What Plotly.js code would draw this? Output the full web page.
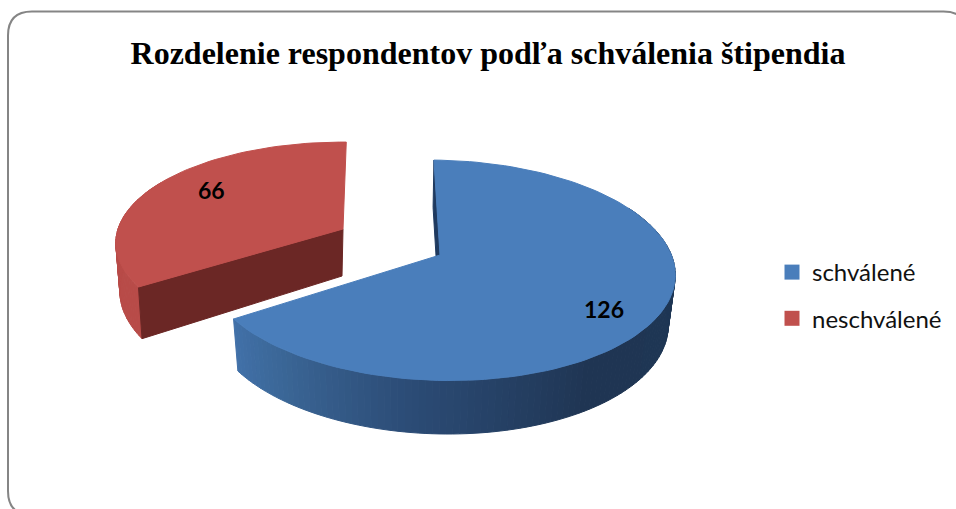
<!DOCTYPE html>
<html>
<head>
<meta charset="utf-8">
<script src="https://cdn.plot.ly/plotly-3.0.1.min.js"></script>
<style>html,body{margin:0;padding:0;background:#fff;overflow:hidden}#chart{width:956px;height:509px}</style>
</head>
<body>
<div id="chart"></div>
<script>
const categories = ["schválené", "neschválené"];
const values = [126, 66];
const chartTitle = "Rozdelenie respondentov podľa schválenia štipendia";

const total = values[0] + values[1];
const sweep = values.map(v => 360 * v / total);
const rad = d => d * Math.PI / 180;
const K = 0.139;

// projected disc: angle clockwise from the top, with a slight perspective
function disc(g, t) {
  const X = Math.sin(rad(t)), Y = Math.cos(rad(t)), w = 1 + K * Y;
  const dx = g.a * X / w;
  return [g.cx + dx, g.cy - g.b * Y / w + (g.s || 0) * dx];
}
function poly(pts, color, extra) {
  return Object.assign({
    x: pts.map(p => p[0]).concat(pts[0][0]),
    y: pts.map(p => p[1]).concat(pts[0][1]),
    mode: "lines", fill: "toself", fillcolor: color,
    line: {color: color, width: 1}, showlegend: false, hoverinfo: "skip"
  }, extra || {});
}
function arc(g, t0, t1) {
  const n = Math.max(2, Math.round(Math.abs(t1 - t0) / 2)), out = [];
  for (let i = 0; i <= n; i++) out.push(disc(g, t0 + (t1 - t0) * i / n));
  return out;
}
function hex(c){return [1,3,5].map(i=>parseInt(c.substr(i,2),16));}
function ramp(stops, t) {
  for (let i = 0; i < stops.length - 1; i++) {
    const [a, ca] = stops[i], [b, cb] = stops[i + 1];
    if (t <= b) {
      const f = Math.max(0, (t - a) / (b - a)), A = hex(ca), B = hex(cb);
      return "rgb(" + A.map((v, k) => Math.round(v + (B[k] - v) * f)).join(",") + ")";
    }
  }
  return stops[stops.length - 1][1];
}
function slice(top, bot, t0, t1, wall0, wall1, stops, cutColor, topColor, cutAngle) {
  const tr = [];
  const step = 1.5;
  for (let t = wall0; t < wall1; t += step) {
    const e = Math.min(t + step, wall1);
    tr.push(poly([disc(top, t), disc(top, e), disc(bot, e), disc(bot, t)], ramp(stops, t)));
  }
  const ct = disc(top, cutAngle), cb = disc(bot, cutAngle);
  tr.push(poly([ct, [top.cx, top.cy], [bot.cx, bot.cy], cb], cutColor));
  tr.push(poly([[top.cx, top.cy]].concat(arc(top, t0, t1)), topColor));
  return tr;
}

const blueTop = {cx: 440, cy: 255, a: 233, b: 108, s: 0.02};
const blueBot = {cx: 439, cy: 305, a: 227, b: 111, s: 0.02};
const redTop  = {cx: 343, cy: 229, a: 225, b: 99};
const redBot  = {cx: 342, cy: 276, a: 220, b: 107};
const b0 = -1.7, b1 = b0 + sweep[0];
const r0 = 237.2, r1 = r0 + sweep[1];

const blueStops = [[60,"#1e3a5f"],[105,"#1e3654"],[145,"#1f3553"],[185,"#2b4b75"],[215,"#3a6595"],[235,"#4272aa"]];
const redStops = [[235,"#b84b48"],[300,"#b84b48"]];

const traces = [].concat(
  slice(redTop, redBot, r0, r1, r0, 300, redStops, "#6b2725", "#c0504d", r0),
  slice(blueTop, blueBot, b0, b1, 60, b1, blueStops, "#1f3a5f", "#4a7ebb", b0)
);
["#4a7ebb", "#c0504d"].forEach((c, i) => traces.push({
  x: [null], y: [null], mode: "markers", name: categories[i], legendgroup: categories[i],
  marker: {symbol: "square", size: 15, color: c}, hoverinfo: "skip"
}));

const labelFont = {family: "Lato, Carlito, sans-serif", size: 23, color: "#000"};
const layout = {
  width: 956, height: 509,
  margin: {l: 0, r: 0, t: 0, b: 0},
  paper_bgcolor: "#fff", plot_bgcolor: "#fff",
  xaxis: {range: [0, 956], visible: false, fixedrange: true},
  yaxis: {range: [509, 0], visible: false, fixedrange: true},
  title: {
    text: "<b>" + chartTitle + "</b>",
    font: {family: "Liberation Serif, serif", size: 32, color: "#000"},
    x: 488 / 956, xanchor: "center", y: 1 - 53 / 509, yanchor: "middle"
  },
  legend: {
    x: 772 / 956, xanchor: "left", y: 1 - 250 / 509, yanchor: "top",
    font: {family: "Lato, Carlito, sans-serif", size: 24, color: "#111"},
    tracegroupgap: 12, bgcolor: "rgba(0,0,0,0)", itemclick: false, itemdoubleclick: false
  },
  shapes: [{
    type: "path", xref: "x", yref: "y", layer: "below",
    path: "M 32,11.5 H 943.5 Q 967.5,11.5 967.5,35.5 V 491 Q 967.5,515 943.5,515 H 32 Q 8,515 8,491 V 35.5 Q 8,11.5 32,11.5 Z",
    line: {color: "#858585", width: 2}
  }],
  annotations: [
    {x: 604, y: 309, xref: "x", yref: "y", text: "<b>" + values[0] + "</b>", showarrow: false, font: labelFont},
    {x: 211, y: 190, xref: "x", yref: "y", text: "<b>" + values[1] + "</b>", showarrow: false, font: labelFont}
  ]
};
Plotly.newPlot("chart", traces, layout, {displayModeBar: false, staticPlot: true});
</script>
</body>
</html>
